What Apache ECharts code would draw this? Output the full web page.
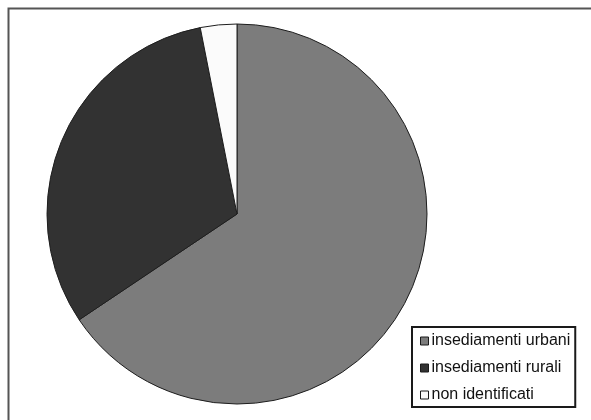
<!DOCTYPE html>
<html>
<head>
<meta charset="utf-8">
<script src="https://cdn.jsdelivr.net/npm/echarts@6/dist/echarts.min.js"></script>
<style>
  html, body { margin: 0; padding: 0; background: #ffffff; }
  #chart { width: 591px; height: 420px; }
</style>
</head>
<body>
<div id="chart"></div>
<script>
// insediamenti per tipo (percentuali)
var categories = ['insediamenti urbani', 'insediamenti rurali', 'non identificati'];
var values = [65.6, 31.3, 3.1];
var colors = ['#7c7c7c', '#323232', '#fbfbfb'];

var myChart = echarts.init(document.getElementById('chart'));

var pieData = categories.map(function (name, i) {
    return { name: name, value: values[i], itemStyle: { color: colors[i] } };
});

var option = {
    backgroundColor: '#ffffff',
    animation: false,
    graphic: [
        {
            type: 'polyline',
            shape: { points: [[8.5, 420], [8.5, 8.5], [591, 8.5]] },
            style: { stroke: '#555555', lineWidth: 2, fill: null }
        }
    ],
    legend: {
        orient: 'vertical',
        left: 412,
        top: 327,
        padding: [6, 5, 4, 8],
        itemGap: 11,
        itemWidth: 8,
        itemHeight: 8,
        icon: 'rect',
        backgroundColor: '#ffffff',
        borderColor: '#1a1a1a',
        borderWidth: 2,
        borderRadius: 0,
        itemStyle: { borderColor: '#1a1a1a', borderWidth: 1 },
        textStyle: {
            fontFamily: 'Liberation Sans',
            fontSize: 16,
            color: '#111111',
            padding: [0, 0, 0, -2]
        },
        data: categories
    },
    series: [
        {
            type: 'pie',
            center: [237, 214],
            radius: 190,
            startAngle: 90,
            clockwise: true,
            silent: true,
            label: { show: false },
            labelLine: { show: false },
            itemStyle: { borderColor: '#1e1e1e', borderWidth: 1 },
            data: pieData
        }
    ]
};

myChart.setOption(option);
window.onresize = function () {
    myChart.resize();
};
</script>
</body>
</html>
